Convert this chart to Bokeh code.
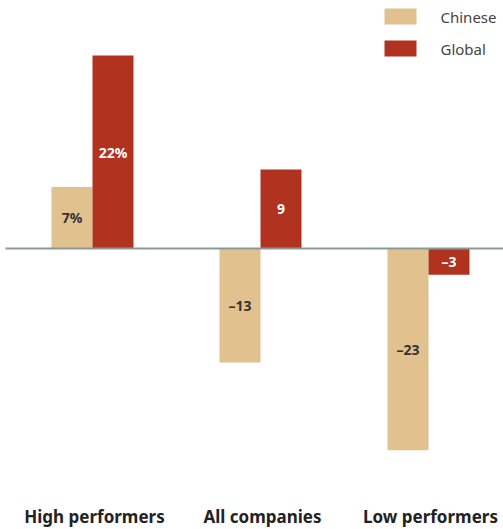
from bokeh.plotting import figure
from bokeh.models import Range1d, ColumnDataSource
from bokeh.core.properties import value
from bokeh.embed import file_html
from bokeh.resources import INLINE

categories = ["High performers", "All companies", "Low performers"]
chinese = [7, -13, -23]
global_ = [22, 9, -3]
chinese_labels = ["7%", "–13", "–23"]
global_labels = ["22%", "9", "–3"]
series = ["Chinese", "Global"]

CH_COLOR = "#E1C28F"
GL_COLOR = "#B0321F"
FONT = "Noto Sans"

PX_X = 168.0   # px per group
PX_Y = 8.77    # px per unit
W, H = 503, 529
BW = 41 / PX_X


def sx(px):
    return (px - 92) / PX_X


def sy(py):
    return (248 - py) / PX_Y


idx = list(range(len(categories)))
off = BW / 2

p = figure(width=W, height=H, output_backend="svg", toolbar_location=None,
           x_range=Range1d(sx(0), sx(W)), y_range=Range1d(sy(H), sy(0)),
           min_border=0, outline_line_color=None)
p.axis.visible = False
p.grid.visible = False
p.background_fill_color = "white"
p.border_fill_color = "white"

src_c = ColumnDataSource(dict(x=[i - off for i in idx], top=chinese,
                              y=[v / 2 for v in chinese], lab=chinese_labels))
src_g = ColumnDataSource(dict(x=[i + off for i in idx], top=global_,
                              y=[v / 2 for v in global_], lab=global_labels))

p.vbar(x="x", top="top", bottom=0, width=BW, source=src_c,
       fill_color=CH_COLOR, line_color=None)
p.vbar(x="x", top="top", bottom=0, width=BW, source=src_g,
       fill_color=GL_COLOR, line_color=None)

p.text(x="x", y="y", text="lab", source=src_c, text_align="center",
       text_baseline="middle", text_font=value(FONT), text_font_size="14px",
       text_font_style="bold", text_color="#333333")
p.text(x="x", y="y", text="lab", source=src_g, text_align="center",
       text_baseline="middle", text_font=value(FONT), text_font_size="14px",
       text_font_style="bold", text_color="white")

# zero line
p.segment(x0=[sx(5)], y0=[0], x1=[sx(W)], y1=[0],
          line_color="#8A9B97", line_width=2)

# category labels
cat_src = ColumnDataSource(dict(x=[i + 2 / PX_X for i in idx],
                                y=[sy(516)] * len(idx), t=categories))
p.text(x="x", y="y", text="t", source=cat_src, text_align="center",
       text_baseline="middle", text_font=value(FONT), text_font_size="17px",
       text_font_style="bold", text_color="#222222")

# legend
leg_src = ColumnDataSource(dict(x=[sx(400)] * 2, tx=[sx(440)] * 2,
                                y=[sy(16), sy(48)], t=series,
                                c=[CH_COLOR, GL_COLOR]))
p.rect(x="x", y="y", width=32, height=16, width_units="screen",
       height_units="screen", fill_color="c", line_color=None, source=leg_src)
p.text(x="tx", y="y", text="t", source=leg_src, text_align="left",
       text_baseline="middle", text_font=value(FONT), text_font_size="15px",
       text_color="#444444")

open("out.html", "w").write(file_html(p, INLINE))
